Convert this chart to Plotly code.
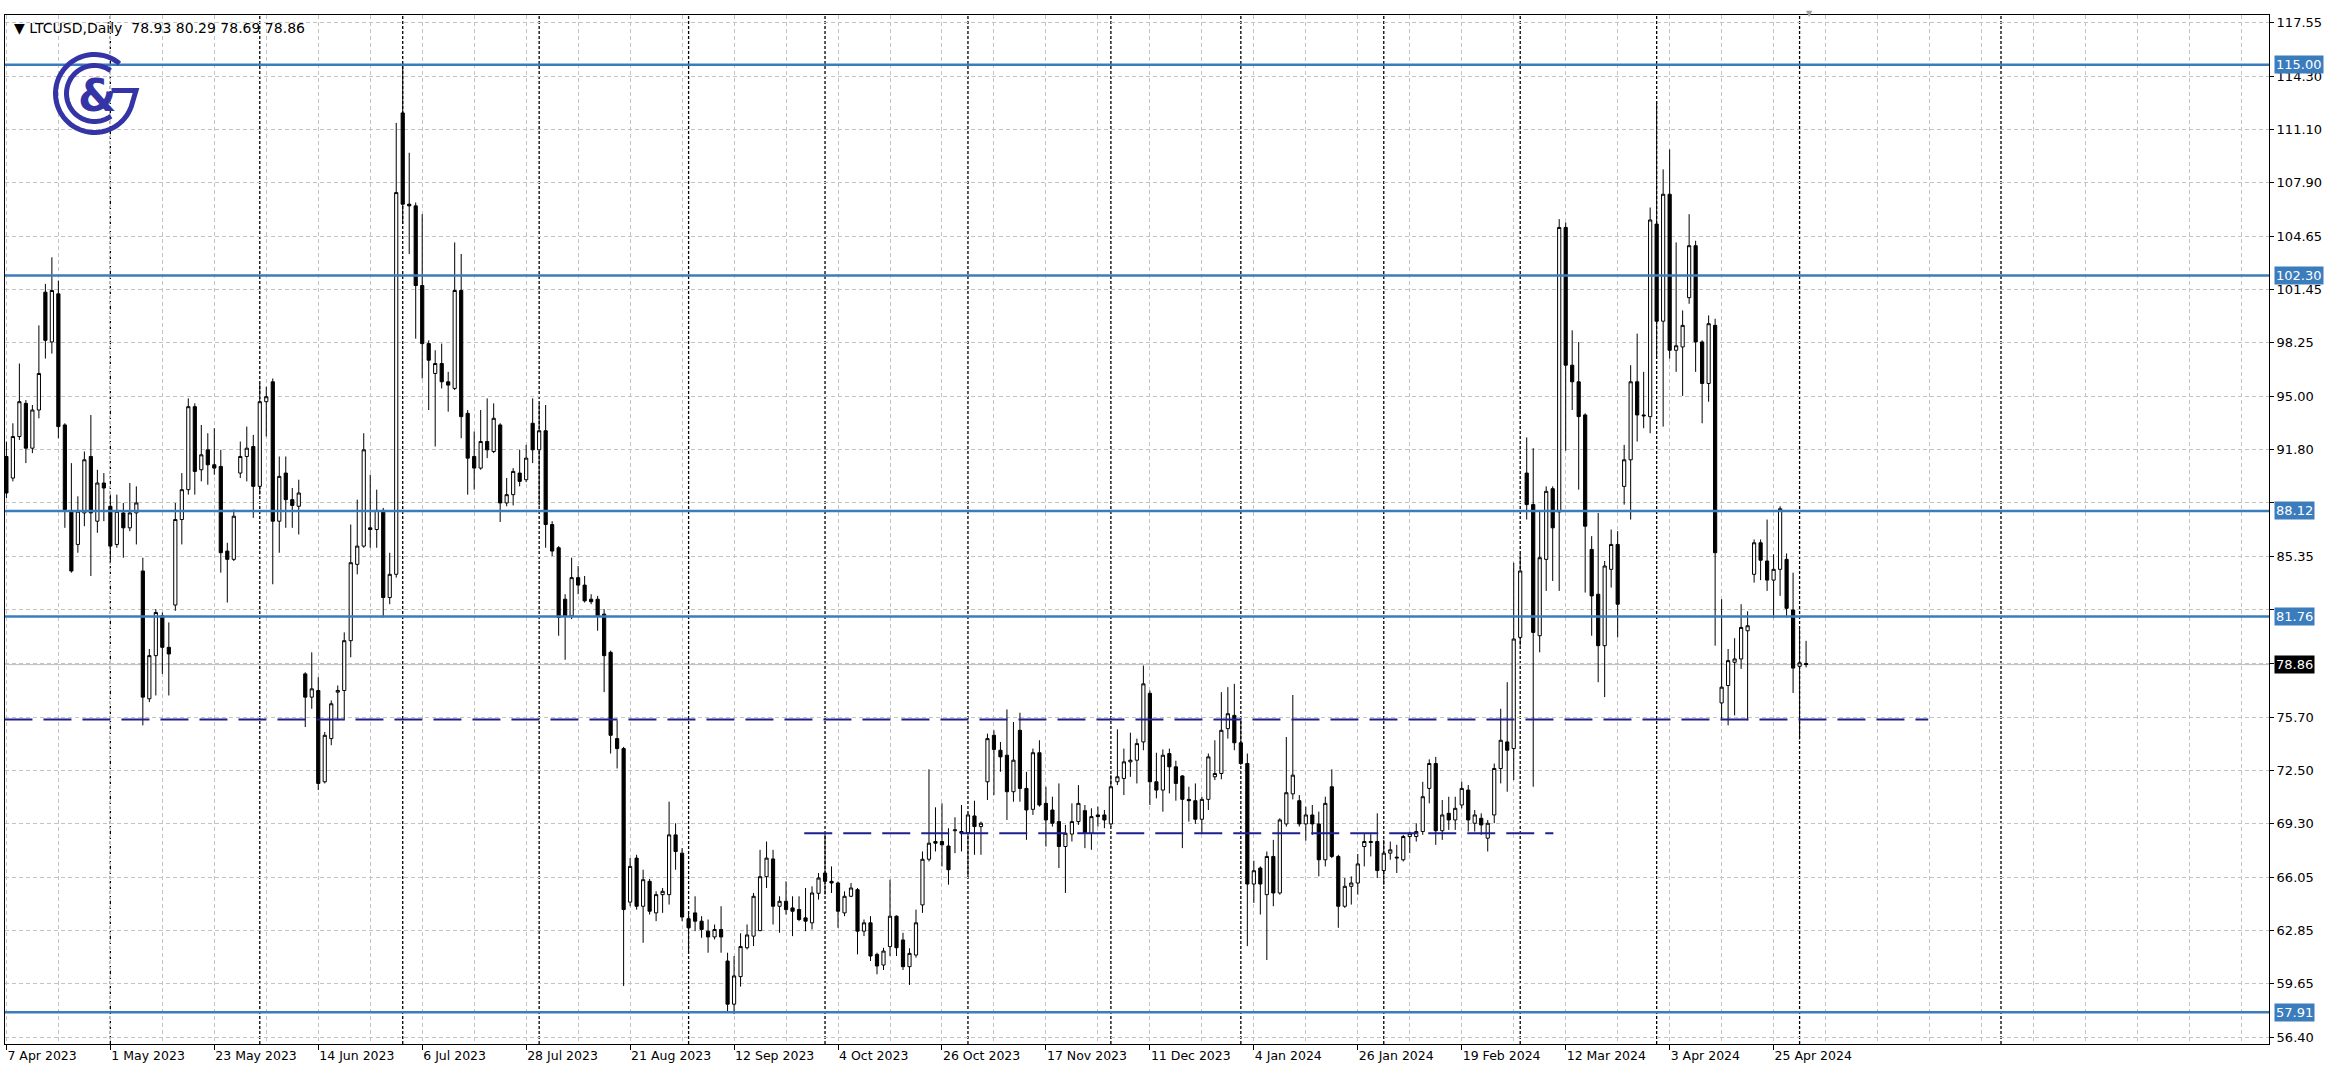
import numpy as np
import plotly.graph_objects as go

# ---------------- data ----------------
opens = [91.4,90.1,92.6,94.6,91.9,94.2,101.3,98.3,101.2,93.3,88.1,86.1,88.0,91.4,87.5,89.8,88.4,86.1,88.0,87.1,
         88.0,84.5,76.8,79.4,81.8,79.9,82.45,87.6,89.4,94.4,90.6,91.8,90.9,90.8,85.7,85.2,90.4,91.4,92.0,89.6,
         94.7,95.9,87.5,90.4,88.8,88.4,78.3,76.9,77.3,71.8,74.4,77.2,77.3,80.3,84.9,86.0,87.1,87.0,88.15,82.9,
         84.3,112.1,106.6,106.5,101.7,98.2,96.4,97.0,95.9,95.5,101.4,94.0,91.4,90.7,92.3,91.7,93.3,88.6,89.1,90.4,
         90.0,93.4,91.8,92.95,87.3,85.9,82.8,81.8,84.1,83.65,82.8,82.8,81.9,79.6,74.4,73.8,64.55,67.2,64.3,65.8,
         63.9,65.0,65.0,68.6,67.5,63.55,63.9,63.4,62.8,62.45,62.9,61.0,58.4,60.06,61.8,62.5,62.83,66.08,67.15,64.3,
         64.6,64.2,64.1,63.6,63.3,65.08,66.3,65.8,65.7,63.9,64.9,65.3,62.8,63.3,61.4,60.76,61.87,63.7,62.27,60.66,
         61.36,64.38,67.13,68.2,68.2,67.93,68.85,68.8,68.73,69.74,69.1,71.8,74.6,73.7,73.4,71.2,74.9,71.4,70.14,73.55,
         70.5,70.1,69.4,67.9,68.65,69.4,70.06,68.7,69.8,69.8,69.26,71.8,72.0,73.0,73.1,74.2,77.13,71.8,71.3,73.5,
         72.7,72.15,70.74,70.66,69.54,70.74,72.1,72.3,75.0,75.8,74.15,72.9,65.64,66.6,65.0,67.3,65.1,69.26,71.07,70.66,
         69.26,69.8,69.26,67.1,71.5,67.3,64.3,65.5,65.7,67.9,68.2,68.2,66.45,67.5,67.2,67.1,68.5,68.5,68.8,71.4,
         72.9,68.85,69.9,69.5,70.4,71.3,69.3,69.6,68.4,69.8,72.6,74.2,73.8,80.5,90.4,88.5,80.6,85.2,89.46,88.06,
         105.2,96.9,95.9,93.9,85.8,83.1,80.0,84.6,86.1,89.6,91.2,95.9,93.9,93.8,105.4,99.55,107.2,97.8,98.0,100.97,
         104.1,98.3,95.8,99.3,76.55,77.6,79.0,79.2,80.9,84.3,86.2,85.1,83.95,84.6,85.2,82.15,78.76,78.93]
highs = [92.3,93.4,97.0,94.8,94.5,99.3,101.8,103.4,102.0,93.4,91.0,89.0,91.7,93.9,90.6,90.4,89.1,89.1,88.6,89.8,
         89.6,85.3,79.8,82.2,82.0,81.4,88.6,90.4,94.9,94.6,93.3,92.8,93.1,91.8,86.2,88.2,92.3,93.2,92.7,95.8,
         95.6,96.1,91.4,91.4,89.5,90.0,78.4,79.6,78.1,74.8,76.7,77.6,80.8,87.3,88.8,92.8,90.3,89.4,88.3,85.6,
         111.5,115.1,109.7,106.7,106.0,98.4,97.8,98.2,96.5,104.3,103.6,94.2,92.9,94.2,94.9,94.6,93.4,90.1,90.7,91.8,
         92.1,94.9,94.6,94.5,87.5,86.0,83.1,85.3,84.8,84.2,83.1,83.0,82.2,79.7,75.5,73.9,67.2,67.4,66.5,65.95,
         65.2,65.4,70.6,69.3,67.8,63.9,64.9,63.7,63.5,63.2,64.3,61.5,61.3,62.67,63.2,65.1,67.7,68.2,67.7,64.9,
         65.8,64.9,64.9,65.4,65.5,66.3,68.7,66.7,65.8,65.2,65.7,65.4,63.5,63.7,61.5,61.8,65.9,63.75,62.7,61.77,
         64.1,67.6,72.55,70.26,70.5,69.0,69.66,70.4,69.9,70.66,69.4,74.7,74.9,74.2,76.16,75.4,75.96,72.4,73.8,74.3,
         71.5,70.9,71.7,69.2,70.5,71.6,70.4,70.2,70.3,70.1,72.2,74.96,73.8,74.76,74.4,78.8,77.3,73.55,73.75,73.8,
         73.07,72.2,71.5,71.7,70.9,73.5,74.3,77.2,77.5,77.7,75.5,73.5,67.05,66.7,67.6,68.3,69.6,74.5,77.03,71.0,
         70.3,70.4,70.0,70.9,72.55,67.4,66.0,66.1,67.45,68.65,68.65,69.9,68.3,68.2,68.0,68.6,68.8,69.3,71.8,73.15,
         73.3,70.7,70.9,70.9,71.8,71.6,70.1,69.9,69.5,72.9,76.2,77.8,85.0,85.56,92.55,91.9,88.1,89.6,89.6,105.7,
         105.5,99.0,98.3,94.0,86.6,88.0,85.1,87.0,86.9,92.1,96.9,98.8,96.5,106.4,112.8,108.7,109.9,104.3,100.2,106.0,
         104.4,98.4,99.9,99.7,82.8,79.8,80.45,82.5,82.07,86.4,86.4,87.6,85.5,88.4,85.56,84.4,81.0,80.29]
lows = [88.9,89.9,92.4,91.0,91.6,93.7,97.3,97.6,92.5,87.1,84.4,85.6,87.2,84.2,86.8,87.5,85.0,85.9,85.3,86.9,
        86.1,75.2,76.6,77.0,78.3,77.0,82.1,86.1,89.1,89.1,89.9,89.7,90.3,84.4,82.6,85.1,90.1,89.9,87.7,89.1,
        92.6,83.7,85.6,87.1,87.1,86.7,75.1,76.2,71.3,71.7,74.0,75.5,75.5,79.3,84.3,85.9,85.9,85.9,81.7,82.5,
        84.1,105.4,103.6,98.5,96.1,94.2,92.0,95.5,94.1,95.4,92.5,89.1,89.4,90.6,91.3,91.6,87.45,88.4,88.45,89.6,
        89.85,91.0,88.45,85.9,85.4,80.6,79.15,81.6,83.1,82.6,82.5,80.9,77.2,73.5,72.6,59.5,64.3,64.1,62.1,63.8,
        63.4,63.9,64.4,66.5,63.4,61.5,62.8,62.4,61.5,62.3,61.5,57.9,57.8,59.46,61.7,61.9,62.8,65.4,63.2,62.7,
        63.8,62.5,63.4,62.8,62.9,64.7,65.0,65.1,63.0,63.7,64.85,61.4,62.5,61.0,60.2,60.46,61.3,61.3,60.46,59.56,
        61.2,63.9,67.0,67.6,66.7,65.6,67.5,67.6,66.1,67.4,67.4,70.7,71.0,72.4,69.5,70.6,70.6,68.3,69.8,70.3,
        67.9,69.1,66.6,65.1,68.2,69.2,67.8,67.7,69.1,69.0,69.1,71.6,71.0,72.1,71.7,73.7,70.4,70.8,70.0,71.1,
        70.66,67.8,69.4,69.26,68.7,70.1,71.9,71.95,74.4,73.7,72.8,61.9,64.5,63.8,61.06,64.3,65.0,69.1,70.74,69.1,
        68.25,68.6,66.1,66.7,67.2,63.0,64.2,64.4,65.0,66.7,67.3,66.0,65.6,67.1,66.3,67.0,67.5,68.2,68.6,70.5,
        68.0,68.3,68.9,68.9,70.2,68.8,68.8,68.6,67.6,69.3,71.7,71.2,71.9,80.0,87.6,71.5,79.6,83.3,83.9,83.3,
        91.75,94.2,89.4,83.2,80.6,77.8,76.9,83.5,80.5,88.5,87.6,92.3,93.1,92.8,97.3,93.2,97.3,96.5,95.05,100.6,
        96.5,93.4,94.7,80.0,75.5,75.2,75.8,78.6,75.5,83.8,83.95,83.3,81.66,83.0,81.7,77.15,74.35,78.69]
closes = [89.2,92.6,94.7,91.9,94.2,96.4,98.4,101.4,93.2,88.2,84.5,88.1,91.2,88.0,89.8,89.5,86.0,88.1,87.1,88.0,
          88.6,76.9,79.4,82.0,79.9,79.5,87.6,89.4,94.4,90.5,91.5,90.9,90.7,85.6,85.2,87.8,91.4,91.9,89.6,94.7,
          95.0,87.5,90.2,88.8,88.45,89.2,76.9,77.4,71.7,74.6,76.5,77.3,80.3,85.0,86.0,91.8,87.0,88.15,82.9,84.3,
          107.3,106.6,106.5,101.7,98.2,97.2,97.0,95.9,95.7,101.4,93.8,91.3,90.7,92.3,91.8,93.7,88.6,89.1,90.5,89.9,
          91.3,91.8,92.95,87.3,85.7,81.7,81.8,84.1,83.65,82.7,82.65,81.8,79.4,74.6,73.8,64.1,66.7,64.3,65.9,64.0,
          65.0,65.2,68.6,67.6,63.65,63.0,63.4,62.9,62.45,62.9,62.45,58.4,60.1,61.87,62.57,64.9,66.08,67.2,64.3,64.6,
          64.1,64.0,63.5,63.4,65.1,66.0,65.8,65.7,64.0,64.9,65.4,62.8,63.3,61.3,60.7,61.6,63.7,61.8,60.66,61.46,
          63.3,67.13,68.1,68.1,68.0,66.5,68.9,68.7,69.8,69.1,69.3,74.4,73.75,73.3,71.2,73.1,71.4,70.1,73.55,70.4,
          69.5,69.3,67.9,68.7,69.4,70.5,68.7,69.7,69.7,69.5,71.5,72.1,73.0,73.1,74.1,77.7,71.8,71.3,73.4,72.7,
          71.7,70.74,70.66,69.54,70.74,73.3,72.3,74.9,75.9,74.15,72.9,65.64,66.44,65.64,67.3,65.1,69.5,71.14,72.2,69.26,
          69.8,69.26,67.1,70.5,67.3,64.3,65.5,65.7,66.85,68.2,68.15,66.45,67.5,67.7,67.25,68.5,68.7,68.8,70.9,72.9,
          68.85,69.8,69.5,70.2,71.4,69.5,69.8,69.2,69.3,72.6,74.3,73.7,80.4,84.5,88.5,80.8,85.3,89.3,87.1,105.2,
          96.9,95.9,93.8,87.2,83.0,80.0,84.8,86.1,82.5,91.2,95.9,93.9,93.85,105.65,99.55,107.2,97.8,98.07,99.3,104.1,
          98.3,95.8,99.4,85.6,77.5,79.1,79.2,81.1,81.2,86.2,85.15,83.95,84.6,88.25,82.25,78.65,78.97,78.86]

date_labels = ["7 Apr 2023", "1 May 2023", "23 May 2023", "14 Jun 2023", "6 Jul 2023", "28 Jul 2023",
               "21 Aug 2023", "12 Sep 2023", "4 Oct 2023", "26 Oct 2023", "17 Nov 2023", "11 Dec 2023",
               "4 Jan 2024", "26 Jan 2024", "19 Feb 2024", "12 Mar 2024", "3 Apr 2024", "25 Apr 2024"]
label_bars = [16 * k for k in range(len(date_labels))]

month_start_bars = [16, 39, 61, 82, 105, 126, 148, 170, 190, 212, 233, 254, 276, 307]

price_ticks = [117.55, 114.30, 111.10, 107.90, 104.65, 101.45, 98.25, 95.00, 91.80, 88.60,
               85.35, 82.15, 78.95, 75.70, 72.50, 69.30, 66.05, 62.85, 59.65, 56.40]
hidden_ticks = [88.60, 82.15, 78.95]

level_lines = [115.00, 102.30, 88.12, 81.76, 57.91]
support_upper = 75.55
support_upper_end = 295.8
support_lower = 68.70
support_lower_span = (122.8, 238.1)
last_price = 78.86

header = "LTCUSD,Daily  78.93 80.29 78.69 78.86"

# ---------------- figure ----------------
bars = list(range(len(opens)))
FONT = "DejaVu Sans"
BLUE = "#3B7CBD"
NAVY = "#1F1F8F"
GRID = "#C4C4C4"

fig = go.Figure()
fig.add_trace(go.Candlestick(
    x=bars, open=opens, high=highs, low=lows, close=closes,
    increasing=dict(line=dict(color="black", width=1), fillcolor="white"),
    decreasing=dict(line=dict(color="black", width=1), fillcolor="black"),
    whiskerwidth=0, hoverinfo="skip", showlegend=False,
))

shapes = []
# month separators
for b in month_start_bars:
    shapes.append(dict(type="line", xref="x", yref="paper", x0=b, x1=b, y0=0, y1=1,
                       line=dict(color="black", width=1.3, dash="3px,2px"), layer="below"))
# last price line
shapes.append(dict(type="line", xref="paper", yref="y", x0=0, x1=1, y0=last_price, y1=last_price,
                   line=dict(color="#BDBDBD", width=1), layer="below"))
# horizontal levels
for lv in level_lines:
    shapes.append(dict(type="line", xref="paper", yref="y", x0=0, x1=1, y0=lv, y1=lv,
                       line=dict(color=BLUE, width=2.5), layer="above"))
# dashed supports
shapes.append(dict(type="line", xref="x", yref="y", x0=-0.3, x1=support_upper_end,
                   y0=support_upper, y1=support_upper,
                   line=dict(color=NAVY, width=2, dash="28px,11px"), layer="above"))
shapes.append(dict(type="line", xref="x", yref="y", x0=support_lower_span[0], x1=support_lower_span[1],
                   y0=support_lower, y1=support_lower,
                   line=dict(color=NAVY, width=2, dash="28px,11px"), layer="above"))

# logo (pixel-sized arcs anchored to the plot's top-left corner)
LOGO = "#3434A6"
cx, cy = 89.5, -78.5


def arc_path(r, a0, a1, extra=""):
    th = np.radians(np.linspace(a0, a1, 60))
    pts = [f"{cx + r * np.cos(t):.2f},{cy + r * np.sin(t):.2f}" for t in th]
    return "M " + " L ".join(pts) + extra


outer = arc_path(39, 50, 340, f" L {cx + 41.5:.2f},{cy + 3:.2f} L {cx + 17:.2f},{cy + 3:.2f}")
inner = arc_path(28, 55, 306)
for p in (outer, inner):
    shapes.append(dict(type="path", path=p, xref="paper", yref="paper", xsizemode="pixel",
                       ysizemode="pixel", xanchor=0, yanchor=1,
                       line=dict(color=LOGO, width=5), layer="above"))

annotations = []
annotations.append(dict(text="&", xref="paper", yref="paper", x=0, y=1, xshift=92, yshift=-80,
                        xanchor="center", yanchor="middle", showarrow=False,
                        font=dict(family=FONT, size=44, color=LOGO, weight="bold")))
annotations.append(dict(text="▼ " + header, xref="paper", yref="paper", x=0, y=1, xshift=7, yshift=-13,
                        xanchor="left", yanchor="middle", showarrow=False,
                        font=dict(family=FONT, size=14, color="black")))
annotations.append(dict(text="▼", xref="x", yref="paper", x=277.6, y=1, yshift=2,
                        xanchor="center", yanchor="middle", showarrow=False,
                        font=dict(family=FONT, size=8, color="#A0A0A0")))
for lv in level_lines:
    annotations.append(dict(text=f"{lv:.2f}", xref="paper", yref="y", x=1, y=lv, xshift=5,
                            xanchor="left", yanchor="middle", showarrow=False, bgcolor=BLUE,
                            borderpad=1, font=dict(family=FONT, size=13, color="white")))
annotations.append(dict(text=f"{last_price:.2f}", xref="paper", yref="y", x=1, y=last_price, xshift=5,
                        xanchor="left", yanchor="middle", showarrow=False, bgcolor="black",
                        borderpad=1, font=dict(family=FONT, size=13, color="white")))

ytext = ["" if t in hidden_ticks else f"{t:.2f}" for t in price_ticks]

fig.update_layout(
    width=2335, height=1089,
    margin=dict(l=5, r=66, t=15, b=45),
    paper_bgcolor="white", plot_bgcolor="white",
    boxgap=0.3,
    shapes=shapes, annotations=annotations,
    font=dict(family=FONT, size=12, color="black"),
    xaxis=dict(range=[-0.215, 348.25], rangeslider=dict(visible=False),
               tickvals=label_bars, ticktext=date_labels, ticklabelposition="outside right",
               ticks="outside", ticklen=5, tickcolor="black",
               showgrid=True, gridcolor=GRID, griddash="4px,3px", gridwidth=1,
               minor=dict(tick0=0, dtick=8, showgrid=True, gridcolor=GRID, griddash="4px,3px", ticks=""),
               showline=True, linecolor="black", linewidth=1, mirror=True, zeroline=False,
               tickfont=dict(family=FONT, size=12.5)),
    yaxis=dict(range=[56.0, 118.0], side="right", tickvals=price_ticks, ticktext=ytext,
               ticks="outside", ticklen=4, tickcolor="black",
               showgrid=True, gridcolor=GRID, griddash="4px,3px", gridwidth=1,
               showline=True, linecolor="black", linewidth=1, mirror=True, zeroline=False,
               tickfont=dict(family=FONT, size=13)),
)

fig.write_html("out.html", config={"displayModeBar": False},
               post_script="document.body.style.margin='0px';document.body.style.padding='0px';")
